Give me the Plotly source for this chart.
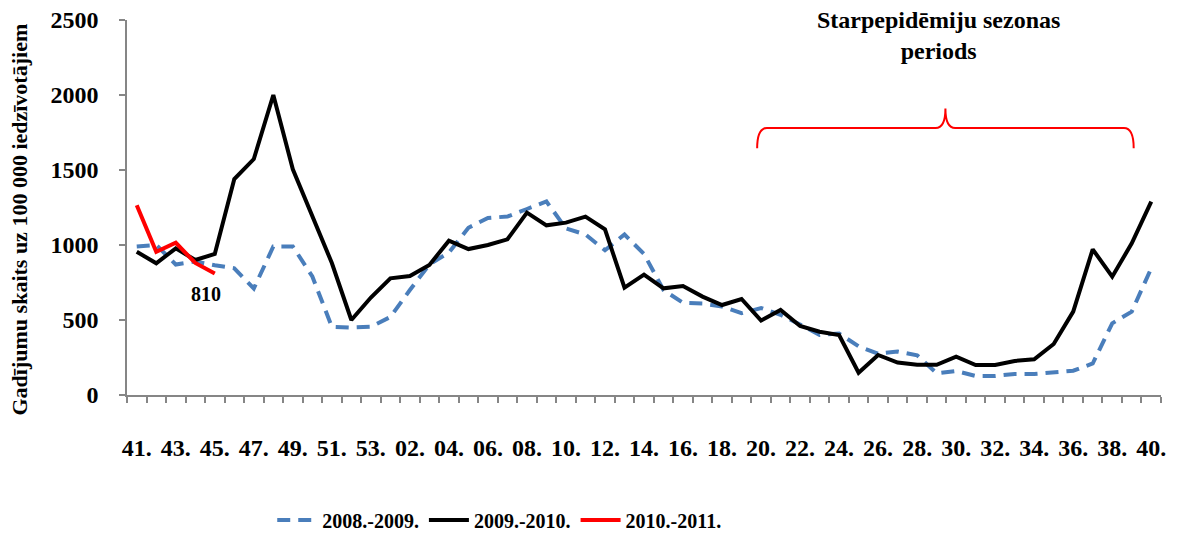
import plotly.graph_objects as go

# ---- data ----
weeks = [41, 42, 43, 44, 45, 46, 47, 48, 49, 50, 51, 52, 53,
         1, 2, 3, 4, 5, 6, 7, 8, 9, 10, 11, 12, 13, 14, 15, 16, 17, 18, 19, 20,
         21, 22, 23, 24, 25, 26, 27, 28, 29, 30, 31, 32, 33, 34, 35, 36, 37, 38, 39, 40]
week_labels = [f"{w:02d}." for w in weeks]

s_2008_2009 = [990, 1000, 870, 890, 865, 845, 710, 990, 990, 790, 455, 450, 455,
               520, 700, 870, 950, 1115, 1180, 1190, 1240, 1290, 1110, 1070, 965, 1070,
               940, 700, 615, 610, 590, 545, 580, 535, 470, 400, 410, 325, 275, 290,
               265, 145, 160, 127, 127, 140, 140, 150, 162, 210, 478, 556, 845]
s_2009_2010 = [955, 878, 978, 900, 940, 1440, 1573, 2000, 1505, 1200, 880, 500, 650,
               778, 793, 867, 1029, 973, 1000, 1038, 1216, 1131, 1149, 1189, 1104, 716,
               802, 711, 727, 656, 600, 640, 496, 567, 460, 422, 400, 149, 267, 216,
               201, 201, 256, 200, 200, 227, 238, 340, 556, 971, 789, 1011, 1289]
s_2010_2011 = [1265, 955, 1015, 880, 810]

series_names = ["2008.-2009.", "2009.-2010.", "2010.-2011."]
last_label = "810"
y_title = "Gadījumu skaits uz 100 000 iedzīvotājiem"
period_label = "Starpepidēmiju sezonas<br>periods"

idx = list(range(len(weeks)))
FONT = "Liberation Serif"
AX = "#868686"

fig = go.Figure()
fig.add_trace(go.Scatter(x=idx, y=s_2008_2009, mode="lines", name=series_names[0],
                         line=dict(color="#4a7ebb", width=4, dash="13px,8px")))
fig.add_trace(go.Scatter(x=idx, y=s_2009_2010, mode="lines", name=series_names[1],
                         line=dict(color="#000000", width=4)))
fig.add_trace(go.Scatter(x=idx[:len(s_2010_2011)], y=s_2010_2011, mode="lines",
                         name=series_names[2], line=dict(color="#ff0000", width=4)))

# label for last red point
fig.add_annotation(x=idx[len(s_2010_2011) - 1], y=s_2010_2011[-1], text=last_label,
                   showarrow=False, xshift=-9, yshift=-20,
                   font=dict(family=FONT, size=20, color="#000", weight="bold"))

# period annotation and brace
fig.add_annotation(x=41.1, xref="x", y=0.96, yref="paper", yanchor="middle",
                   text=period_label, showarrow=False,
                   font=dict(family=FONT, size=24, color="#000", weight="bold"))
bx0, bx1, bm = 31.8, 51.1, 41.45
by, byend, bytip = 1780, 1645, 1910
path = (f"M {bx0},{byend} Q {bx0},{by} {bx0+0.5},{by} L {bm-0.5},{by} "
        f"Q {bm},{by} {bm},{bytip} Q {bm},{by} {bm+0.5},{by} L {bx1-0.5},{by} "
        f"Q {bx1},{by} {bx1},{byend}")
fig.add_shape(type="path", path=path, xref="x", yref="y",
              line=dict(color="#ff0000", width=2))

# y axis title as annotation
fig.add_annotation(x=0, xref="paper", xshift=-108, xanchor="center",
                   y=0.5, yref="paper", yshift=-12, yanchor="middle",
                   text=y_title, textangle=-90, showarrow=False,
                   font=dict(family=FONT, size=22, color="#000", weight="bold"))

fig.update_layout(
    template="none",
    width=1180, height=536,
    margin=dict(l=127, r=19, t=20, b=141, autoexpand=False),
    paper_bgcolor="white", plot_bgcolor="white",
    showlegend=True,
    legend=dict(orientation="h", x=0.36, xanchor="center",
                yref="container", y=1 - 520 / 536, yanchor="middle",
                font=dict(family=FONT, size=20, color="#000", weight="bold"),
                itemwidth=40, bgcolor="rgba(0,0,0,0)"),
    xaxis=dict(range=[-0.5, len(weeks) - 0.5], tickmode="array",
               tickvals=idx[::2], ticktext=week_labels[::2], automargin=False,
               ticks="", ticklabelstandoff=30, showgrid=False, zeroline=False,
               showline=True, linecolor=AX, linewidth=1.5,
               tickfont=dict(family=FONT, size=24, color="#000", weight="bold"),
               minor=dict(tickmode="array", tickvals=[i - 0.5 for i in idx] + [len(weeks) - 0.5],
                          ticks="outside", ticklen=6, tickcolor=AX, tickwidth=1.5,
                          showgrid=False)),
    yaxis=dict(range=[0, 2500], tickmode="linear", tick0=0, dtick=500, automargin=False,
               ticks="outside", ticklen=6, tickcolor=AX, tickwidth=1.5,
               ticklabelstandoff=16,
               showgrid=False, zeroline=False, showline=True, linecolor=AX, linewidth=1.5,
               tickfont=dict(family=FONT, size=24, color="#000", weight="bold")),
)

fig.write_html("out.html", config={"displayModeBar": False},
               post_script="document.body.style.margin='0';document.body.style.overflow='hidden';")
